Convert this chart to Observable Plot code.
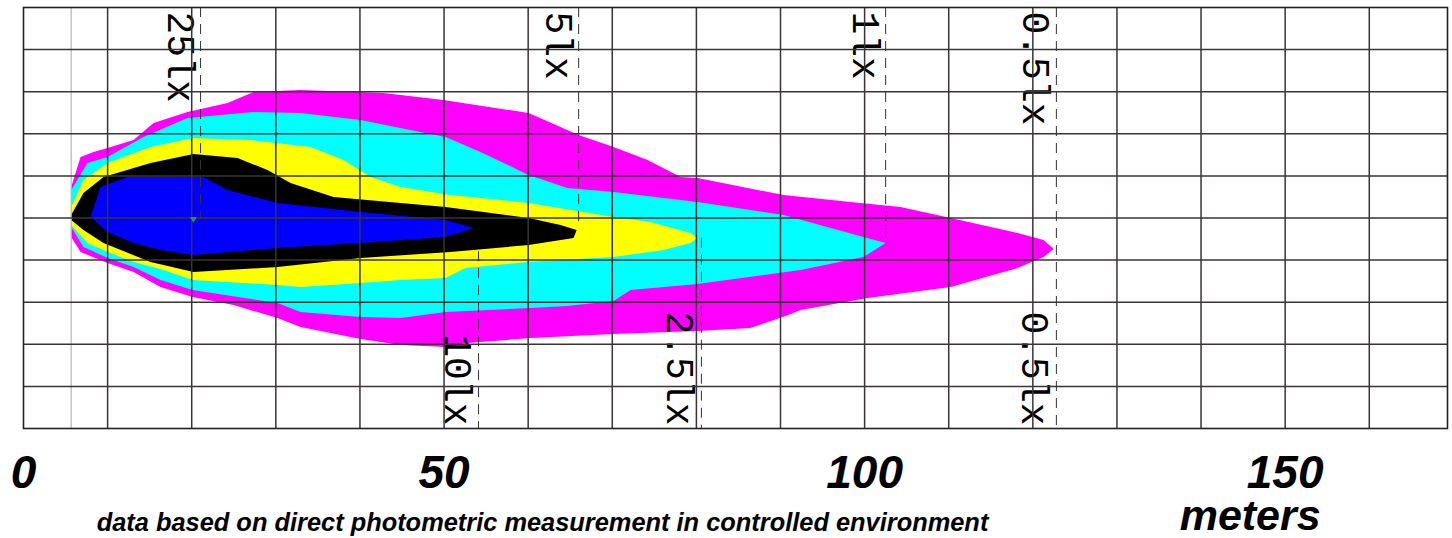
<!DOCTYPE html>
<html><head><meta charset="utf-8">
<script src="https://cdn.jsdelivr.net/npm/d3@7"></script>
<script src="https://cdn.jsdelivr.net/npm/@observablehq/plot@0.6"></script>
<style>body{margin:0;background:#fff;} svg{display:block;}</style>
</head><body><div id="chart"></div>
<script>
// ---- data (meters) ----
const xTicks = [0, 50, 100, 150];
const gridX = [10, 20, 30, 40, 50, 60, 70, 80, 90, 100, 110, 120, 130, 140, 150, 160];
const gridY = [-20, -15, -10, -5, 0, 5, 10, 15, 20];
const sourceX = [5.67];
const peak = [[20.2, -0.1]];

// isolux contours [distance, lateral offset]
const lux05 = [[5.67,3.68],[6.78,7.24],[8.32,7.84],[9.99,8.31],[13.08,9.26],[15.46,11.28],[19.50,12.59],[24.26,13.66],[27.35,14.96],[32.94,15.20],[42.81,14.85],[49.94,14.01],[60.05,12.47],[63.85,10.81],[65.99,9.86],[70.15,8.43],[74.20,6.89],[78.12,4.87],[80.14,4.75],[90.37,2.73],[98.34,1.90],[104.28,1.31],[110.23,0],[118.19,-1.78],[121.28,-2.61],[122.47,-3.68],[121.28,-4.63],[118.19,-5.94],[110.23,-8.19],[100.36,-9.50],[92.39,-10.93],[90.6,-11.64],[86.44,-13.06],[80.14,-13.42],[70.15,-13.78],[60.29,-14.25],[52.8,-14.85],[50.18,-15.32],[44.83,-15.08],[40.07,-14.37],[32.94,-12.95],[30.20,-11.88],[24.97,-10.33],[20.10,-9.38],[16.29,-8.19],[13.08,-6.41],[9.99,-5.34],[6.78,-4.04],[5.67,-2.26]];
const lux1 = [[5.67,3.33],[7.61,6.53],[9.99,7.24],[14.27,9.62],[19.50,11.88],[27.35,12.59],[32.94,12.47],[40.07,11.64],[50.18,9.62],[54.34,7.84],[60.05,5.11],[64.68,3.56],[70.15,3.09],[80.14,1.90],[90.37,0.36],[99.88,-2.26],[102.50,-2.97],[99.88,-4.63],[92.39,-6.18],[80.14,-7.84],[72.18,-8.55],[70.15,-9.86],[64.68,-10.45],[60.29,-10.69],[50.18,-11.16],[44.83,-11.88],[40.07,-11.76],[32.94,-11.16],[30.20,-10.10],[20.10,-8.55],[16.29,-7.36],[13.08,-5.82],[9.99,-4.75],[7.13,-3.44],[5.67,-1.07]];
const lux25 = [[5.67,1.31],[7.13,4.51],[9.99,6.53],[15.10,8.43],[20.21,9.50],[26.99,9.26],[34.13,8.43],[38.05,6.89],[41.26,4.87],[44.83,3.68],[50.77,2.73],[60.05,1.78],[70.15,0.12],[74.55,-0.48],[79.31,-1.78],[80.14,-2.38],[79.31,-2.97],[76.10,-3.80],[70.15,-4.63],[59.93,-5.23],[52.56,-5.94],[50.18,-7.13],[44.83,-7.36],[40.07,-7.72],[32.94,-8.19],[30.20,-7.96],[20.10,-7.36],[16.29,-6.06],[13.08,-5.23],[9.99,-4.04],[7.61,-2.97],[5.67,-0.83]];
const lux5 = [[5.67,0.36],[7.13,2.97],[9.51,4.87],[15.10,6.53],[20.21,7.60],[25.45,7.13],[29.01,5.70],[31.75,4.16],[36.86,2.49],[50.18,1.31],[60.05,0],[63.85,-0.83],[65.76,-1.43],[65.40,-2.38],[60.05,-3.21],[50.77,-4.04],[40.07,-4.75],[30.20,-5.82],[20.21,-6.41],[15.10,-5.23],[9.51,-2.97],[7.13,-1.43],[5.67,-0.24]];
const lux10 = [[7.97,0.12],[9.16,3.68],[12.37,4.87],[21.40,4.87],[24.26,3.33],[30.20,1.78],[40.07,0.71],[50.18,-0.24],[53.51,-1.19],[50.18,-2.26],[40.07,-2.97],[30.20,-3.56],[20.21,-4.39],[16.29,-3.80],[13.08,-2.97],[9.99,-1.66]];

// reach of each level: label, distance, dashed span
const topLabels = ["25lx", "5lx", "1lx", "0.5lx"];
const topReach = [21.05, 66.0, 102.5, 122.8];
const topEnd = [-0.2, -1.2, -3.3, -25];
const bottomLabels = ["10lx", "2.5lx", "0.5lx"];
const bottomReach = [54.1, 80.6, 122.8];
const bottomStart = [-4.0, -2.4, -25];

const caption = "data based on direct photometric measurement in controlled environment";
const unitLabel = "meters";

// ---- tables ----
const contours = [
  {pts: lux05, color: "#ff00ff"},
  {pts: lux1, color: "#00ffff"},
  {pts: lux25, color: "#ffff00"},
  {pts: lux5, color: "#000000"},
  {pts: lux10, color: "#0000ff"}
];
const topRows = topLabels.map((t, i) => ({t, x: topReach[i], y1: 25, y2: topEnd[i]}));
const bottomRows = bottomLabels.map((t, i) => ({t, x: bottomReach[i], y1: bottomStart[i], y2: -25}));
const dashRows = topRows.concat(bottomRows.filter(d => d.y1 > -25));

const mono = "'Liberation Mono', 'DejaVu Sans Mono', monospace";
const sans = "'Liberation Sans', Arial, sans-serif";
const gridColor = "#3a3434";

const plot = Plot.plot({
  width: 1452, height: 538,
  marginTop: 7, marginLeft: 23, marginRight: 5, marginBottom: 110,
  x: {domain: [0, 169.3], axis: null},
  y: {domain: [-25, 25], axis: null},
  style: {background: "#fff"},
  marks: [
    ...contours.map(c => Plot.line(c.pts, {x: d => d[0], y: d => d[1], fill: c.color, stroke: "none"})),
    Plot.text(topRows, {x: "x", text: "t", rotate: 90, frameAnchor: "top", textAnchor: "start", dx: -6, dy: 4, fontSize: 38, fontFamily: mono, fill: "#000"}),
    Plot.text(bottomRows, {x: "x", text: "t", rotate: 90, frameAnchor: "bottom", textAnchor: "end", dx: -34, dy: -3, fontSize: 38, fontFamily: mono, fill: "#000"}),
    Plot.ruleX(sourceX, {stroke: "#bbb", strokeWidth: 1.3}),
    Plot.ruleX(gridX, {stroke: gridColor, strokeWidth: 1.5}),
    Plot.ruleY(gridY, {stroke: gridColor, strokeWidth: 1.5}),
    Plot.ruleX(dashRows, {x: "x", y1: "y1", y2: "y2", stroke: "#333", strokeWidth: 1, strokeDasharray: "10,7"}),
    Plot.dot(peak, {x: d => d[0], y: d => d[1], symbol: "triangle", r: 2.5, fill: "#2c9a2c", stroke: "none", rotate: 180}),
    Plot.frame({stroke: "#222", strokeWidth: 1.6}),
    Plot.axisX(xTicks, {tickSize: 0, tickPadding: 27, fontSize: 46, fontWeight: "bold", fontStyle: "italic", fontFamily: sans, label: null, fill: "#000"}),
    Plot.text([150], {x: d => d, text: () => unitLabel, frameAnchor: "bottom", dx: -35, dy: 101, fontSize: 43, fontWeight: "bold", fontStyle: "italic", fontFamily: sans, fill: "#000"}),
    Plot.text([caption], {text: d => d, frameAnchor: "bottom", dx: -193, dy: 102, fontSize: 25.4, fontWeight: "bold", fontStyle: "italic", fontFamily: sans, fill: "#000"})
  ]
});
document.getElementById("chart").appendChild(plot);
</script>
</body></html>
